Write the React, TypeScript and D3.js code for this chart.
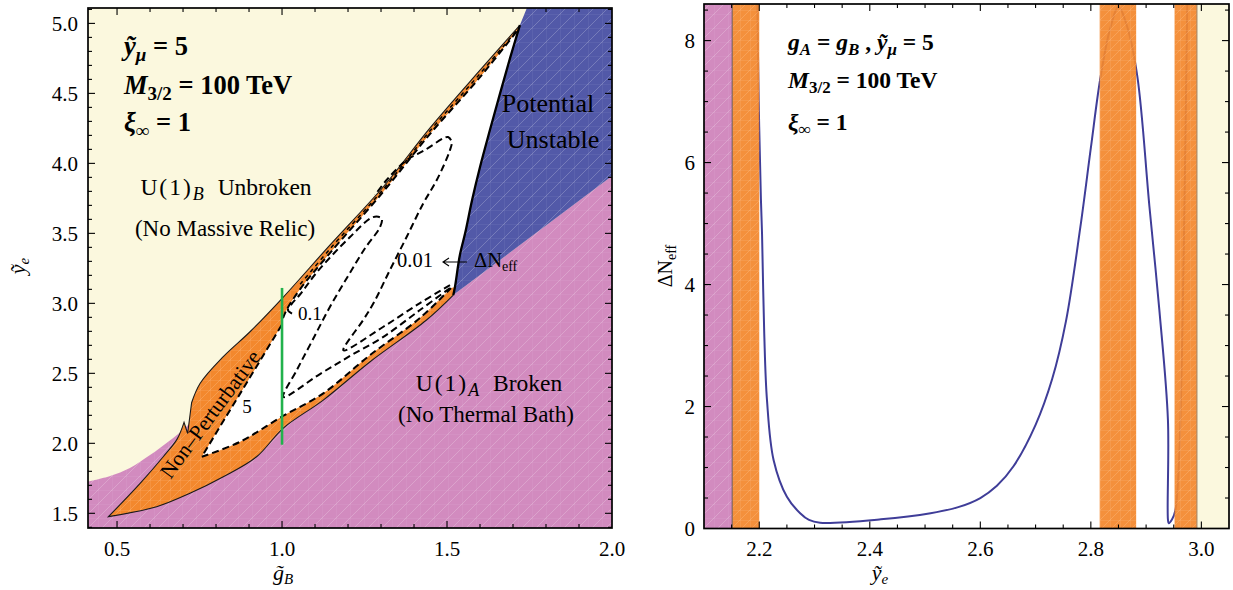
import React from "react";
import * as d3 from "d3";

type Pt = [number, number];

const FONT = "'Liberation Serif','Times New Roman',Times,serif";

// ---------------- LEFT PANEL: g̃_B (x) vs ỹ_e (y) ----------------
const leftXDomain: Pt = [0.412, 2.0];
const leftYDomain: Pt = [1.395, 5.11];
const leftXTicks = [0.5, 1.0, 1.5, 2.0];
const leftXTickLabels = ["0.5", "1.0", "1.5", "2.0"];
const leftYTicks = [1.5, 2.0, 2.5, 3.0, 3.5, 4.0, 4.5, 5.0];
const leftYTickLabels = ["1.5", "2.0", "2.5", "3.0", "3.5", "4.0", "4.5", "5.0"];

// upper boundary of the "U(1)_A Broken" region
const pinkBoundary: Pt[] = [
  [0.412, 1.726], [0.479, 1.766], [0.539, 1.824], [0.6, 1.916], [0.63, 1.966],
  [0.706, 2.109], [0.752, 2.224], [1.004, 2.202], [1.267, 2.666], [1.438, 2.931],
  [1.519, 3.059], [2.0, 3.909],
];
// potential-unstable boundary (solid black curve), bottom -> top
const unstableEdge: Pt[] = [
  [1.519, 3.059], [1.524, 3.116], [1.539, 3.345], [1.555, 3.502], [1.576, 3.738],
  [1.6, 3.974], [1.63, 4.238], [1.661, 4.502], [1.691, 4.752], [1.721, 4.988],
];
const unstableTop: Pt[] = [[1.742, 5.11], [2.0, 5.11], [2.0, 3.909]];
// non-perturbative region: lower edge (tip -> corner)
const npLower: Pt[] = [
  [0.474, 1.476], [0.62, 1.547], [0.721, 1.643], [0.822, 1.761], [0.923, 1.904],
  [1.004, 2.109], [1.125, 2.309], [1.267, 2.583], [1.438, 2.881], [1.519, 3.059],
];
// non-perturbative region: upper edge (top -> notch)
const npUpper: Pt[] = [
  [1.721, 4.988], [1.6, 4.666], [1.448, 4.252], [1.307, 3.833], [1.145, 3.416], [1.004, 3.045],
  [0.903, 2.797], [0.822, 2.619], [0.752, 2.429], [0.726, 2.29],
];
// notch and thin arm (spike -> tip)
const npNotch: Pt[] = [[0.714, 2.07], [0.703, 2.15]];
const npArm: Pt[] = [[0.703, 2.15], [0.682, 2.03], [0.64, 1.904], [0.57, 1.714], [0.474, 1.476]];
// allowed (white) region
const allowedLower: Pt[] = [
  [0.757, 1.904], [0.873, 2.011], [0.999, 2.19], [1.125, 2.357], [1.267, 2.631],
  [1.418, 2.895], [1.512, 3.109],
];
const allowedTop: Pt = [1.712, 4.945];
const allowedUpper: Pt[] = [
  [1.003, 2.895], [1.015, 2.959], [1.055, 3.102], [1.145, 3.359], [1.306, 3.795],
  [1.448, 4.209], [1.6, 4.616],
];
const allowedLeft: Pt[] = [[0.999, 2.845], [0.873, 2.355], [0.812, 2.12], [0.757, 1.904]];

// ΔN_eff contours (dashed)
const contour001: Pt[] = [
  [1.509, 3.13], [1.418, 3.002], [1.306, 2.831], [1.186, 2.664], [1.246, 2.881],
  [1.277, 3.0], [1.327, 3.238], [1.378, 3.476], [1.428, 3.714], [1.469, 3.881],
  [1.509, 4.095], [1.514, 4.154], [1.503, 4.188], [1.489, 4.179], [1.433, 4.095],
  [1.378, 4.024], [1.317, 3.881], [1.282, 3.774],
];
const contour01: Pt[] = [
  [1.509, 3.109], [1.418, 2.952], [1.306, 2.759], [1.206, 2.624], [1.115, 2.495],
  [1.004, 2.331], [1.045, 2.524], [1.091, 2.731], [1.145, 2.974], [1.2, 3.195],
  [1.252, 3.395], [1.297, 3.545], [1.302, 3.607], [1.276, 3.616], [1.206, 3.474],
  [1.106, 3.223], [1.055, 3.065], [1.03, 2.998], [1.018, 2.952], [1.033, 2.924],
];
const stripMid: Pt[] = [
  [1.055, 3.136], [1.145, 3.388], [1.306, 3.813], [1.448, 4.231], [1.6, 4.641], [1.715, 4.959],
];
const greenLineX = 1.0;
const greenLineY: Pt = [1.99, 3.11];

// ---------------- RIGHT PANEL: ỹ_e (x) vs ΔN_eff (y) ----------------
const rightXDomain: Pt = [2.1, 3.05];
const rightYDomain: Pt = [0, 8.6];
const rightXTicks = [2.2, 2.4, 2.6, 2.8, 3.0];
const rightXTickLabels = ["2.2", "2.4", "2.6", "2.8", "3.0"];
const rightYTicks = [0, 2, 4, 6, 8];
const rightYTickLabels = ["0", "2", "4", "6", "8"];

const pinkBand: Pt = [2.1, 2.151];
const orangeBands: Pt[] = [[2.151, 2.2], [2.816, 2.882], [2.9515, 2.992]];
const yellowBand: Pt = [2.992, 3.05];

const dNeffCurve: Pt[] = [
  [2.196, 9.0], [2.199, 7.0], [2.203, 5.4], [2.205, 4.84], [2.209, 3.2], [2.214, 2.1],
  [2.226, 1.12], [2.25, 0.52], [2.274, 0.25], [2.29, 0.14], [2.31, 0.095], [2.42, 0.15],
  [2.51, 0.25], [2.56, 0.35], [2.6, 0.5], [2.63, 0.7], [2.66, 1.02], [2.7, 1.7],
  [2.73, 2.45], [2.755, 3.4], [2.781, 4.94], [2.8, 6.24], [2.817, 7.37], [2.835, 8.2],
  [2.85, 8.55], [2.865, 8.25], [2.884, 7.42], [2.906, 5.28], [2.924, 3.58], [2.9395, 1.78],
  [2.9395, 0.15], [2.941, 0.085], [2.947, 0.15], [2.953, 0.3], [2.96, 1.2], [2.968, 4.5],
  [2.975, 9.0],
];

const C = {
  yellow: "#FBF8DE",
  pink: "#D28BBF",
  blue: "#5259A8",
  orange: "#F3882D",
  green: "#22B24C",
  curve: "#3F3D98",
};

const near = (v: number, step: number) => Math.abs(v / step - Math.round(v / step)) < 1e-6;

function Frame(props: {
  x0: number; x1: number; y0: number; y1: number;
  xt: number[]; yt: number[]; xs: (v: number) => number; ys: (v: number) => number;
  xMajorStep: number; yMajorStep: number;
}) {
  const { x0, x1, y0, y1, xt, yt, xs, ys, xMajorStep, yMajorStep } = props;
  const els: React.ReactNode[] = [];
  xt.forEach((v, i) => {
    const px = xs(v);
    if (px <= x0 + 0.5 || px >= x1 - 0.5) return;
    const L = near(v, xMajorStep) ? 7 : 4;
    els.push(<line key={"xb" + i} x1={px} x2={px} y1={y1} y2={y1 - L} />);
    els.push(<line key={"xt" + i} x1={px} x2={px} y1={y0} y2={y0 + L} />);
  });
  yt.forEach((v, i) => {
    const py = ys(v);
    if (py <= y0 + 0.5 || py >= y1 - 0.5) return;
    const L = near(v, yMajorStep) ? 7 : 4;
    els.push(<line key={"yl" + i} x1={x0} x2={x0 + L} y1={py} y2={py} />);
    els.push(<line key={"yr" + i} x1={x1} x2={x1 - L} y1={py} y2={py} />);
  });
  return (
    <g stroke="#000" strokeWidth={1.1}>
      {els}
      <rect x={x0} y={y0} width={x1 - x0} height={y1 - y0} fill="none" strokeWidth={1.7} />
    </g>
  );
}

export default function App() {
  const xL = d3.scaleLinear().domain(leftXDomain).range([88, 612]);
  const yL = d3.scaleLinear().domain(leftYDomain).range([528, 8]);
  const xR = d3.scaleLinear().domain(rightXDomain).range([704, 1229]);
  const yR = d3.scaleLinear().domain(rightYDomain).range([528.5, 4]);

  const linL = d3.line<Pt>().x((d) => xL(d[0])).y((d) => yL(d[1]));
  const smoothL = d3.line<Pt>().x((d) => xL(d[0])).y((d) => yL(d[1])).curve(d3.curveCatmullRom.alpha(0.5));
  const lineR = d3.line<Pt>().x((d) => xR(d[0])).y((d) => yR(d[1])).curve(d3.curveCatmullRom.alpha(0.5));

  // join segments [points, smooth?] into one closed path
  const joined = (segs: [Pt[], boolean][]) =>
    segs
      .map(([pts, smooth], i) => {
        const d = (smooth ? smoothL(pts) : linL(pts)) || "";
        return i === 0 ? d : d.replace(/^M/, "L");
      })
      .join("") + "Z";

  const pinkPoly = joined([
    [pinkBoundary.slice(0, 7), true],
    [pinkBoundary.slice(6), false],
    [[[leftXDomain[1], leftYDomain[0]], [leftXDomain[0], leftYDomain[0]]], false],
  ]);
  const bluePoly = joined([[unstableTop, false], [unstableEdge, true]]);
  const orangePoly = joined([
    [npLower, true],
    [unstableEdge, true],
    [npUpper, true],
    [npNotch, false],
    [npArm, true],
  ]);
  const whitePoly = joined([
    [allowedLower, true],
    [unstableEdge.slice(1, -1), true],
    [[allowedTop, ...allowedUpper.slice().reverse()], true],
    [allowedLeft, false],
  ]);
  const stripInner = [...allowedUpper, allowedTop];

  const leftXt = d3.range(0.5, 2.0001, 0.1).map((v) => +v.toFixed(2));
  const leftYt = d3.range(1.4, 5.1001, 0.1).map((v) => +v.toFixed(2));
  const rightXt = d3.range(2.1, 3.0501, 0.05).map((v) => +v.toFixed(3));
  const rightYt = d3.range(0, 8.6, 0.5).map((v) => +v.toFixed(2));

  const dash = { fill: "none", stroke: "#000", strokeWidth: 2, strokeDasharray: "7 4" };

  return (
    <svg width={1233} height={590} style={{ position: "absolute", left: 0, top: 0, background: "#fff" }} fontFamily={FONT}>
      <defs>
        <pattern id="mesh" width="14" height="14" patternUnits="userSpaceOnUse">
          <path d="M0,14 L14,0 M-2,2 L2,-2 M12,16 L16,12" stroke="#fff" strokeWidth="0.7" strokeOpacity="0.3" />
          <path d="M0,0 V14 M0,0 H14" stroke="#fff" strokeWidth="0.6" strokeOpacity="0.18" />
        </pattern>
        <pattern id="meshO" width="10" height="10" patternUnits="userSpaceOnUse">
          <path d="M0,10 L10,0 M0,0 V10 M0,0 H10" stroke="#FFD2A8" strokeWidth="0.6" strokeOpacity="0.45" />
        </pattern>
        <clipPath id="clipL"><rect x={88} y={8} width={524} height={520} /></clipPath>
        <clipPath id="clipR"><rect x={704} y={4} width={525} height={524.5} /></clipPath>
      </defs>

      {/* ---------------- LEFT PANEL ---------------- */}
      <g clipPath="url(#clipL)">
        <rect x={88} y={8} width={524} height={520} fill={C.yellow} />
        <path d={pinkPoly} fill={C.pink} />
        <path d={pinkPoly} fill="url(#mesh)" />
        <path d={bluePoly} fill={C.blue} />
        <path d={bluePoly} fill="url(#mesh)" />
        <path d={orangePoly} fill={C.orange} />
        <path d={orangePoly} fill="url(#meshO)" />
        <path d={orangePoly} fill="none" stroke="#1a1a1a" strokeWidth={1.1} />
        <path d={whitePoly} fill="#fff" />
        <path d={linL(allowedLeft) || ""} {...dash} />
        <path d={smoothL(allowedLower) || ""} {...dash} />
        <path d={smoothL(stripInner) || ""} {...dash} />
        <path d={smoothL(stripMid) || ""} {...dash} strokeWidth={1.5} strokeDasharray="4 4" />
        <path d={smoothL(contour001) || ""} {...dash} />
        <path d={smoothL(contour01) || ""} {...dash} />
        <path d={smoothL(unstableEdge) || ""} fill="none" stroke="#000" strokeWidth={2.3} />
        <line x1={xL(greenLineX)} x2={xL(greenLineX)} y1={yL(greenLineY[0])} y2={yL(greenLineY[1])} stroke={C.green} strokeWidth={2.6} />
      </g>

      {/* left annotations */}
      <g fontWeight="bold" fontSize={26.5} fill="#000" style={{ whiteSpace: "pre" }}>
        <text x={124} y={55}>
          <tspan fontStyle="italic">ỹ</tspan>
          <tspan fontStyle="italic" fontSize={19} dy={6}>μ</tspan>
          <tspan dy={-6}> = 5</tspan>
        </text>
        <text x={124} y={94}>
          <tspan fontStyle="italic">M</tspan>
          <tspan fontSize={19} dy={6}>3/2</tspan>
          <tspan dy={-6}> = 100 TeV</tspan>
        </text>
        <text x={124} y={131}>
          <tspan fontStyle="italic">ξ</tspan>
          <tspan fontSize={19} dy={6}>∞</tspan>
          <tspan dy={-6}> = 1</tspan>
        </text>
      </g>
      <g fontSize={23.5} fill="#000" style={{ whiteSpace: "pre" }}>
        <text x={226} y={195} textAnchor="middle">
          <tspan letterSpacing={2}>U(1)</tspan>
          <tspan fontStyle="italic" fontSize={18} dy={5}>B</tspan>
          <tspan dy={-5} dx={8}> Unbroken</tspan>
        </text>
        <text x={225} y={236} textAnchor="middle" fontSize={23}>(No Massive Relic)</text>
        <text x={489} y={391} textAnchor="middle">
          <tspan letterSpacing={2}>U(1)</tspan>
          <tspan fontStyle="italic" fontSize={18} dy={5}>A</tspan>
          <tspan dy={-5} dx={8}> Broken</tspan>
        </text>
        <text x={486} y={422} textAnchor="middle" fontSize={23}>(No Thermal Bath)</text>
        <text x={548} y={112} fontSize={26} textAnchor="middle">Potential</text>
        <text x={553} y={148} fontSize={26} textAnchor="middle">Unstable</text>
      </g>
      <text x={397} y={267} fontSize={20.5}>0.01</text>
      <path d="M467,262 H443 M449,258 L443,262 L449,266" fill="none" stroke="#000" strokeWidth={1.1} />
      <text x={474} y={267} fontSize={20.5}>
        ΔN<tspan fontSize={14} dy={4}>eff</tspan>
      </text>
      <text x={298} y={320} fontSize={19}>0.1</text>
      <text x={247} y={413} fontSize={19} textAnchor="middle">5</text>
      <text transform="translate(210,414) rotate(-53.5)" fontSize={21.5} textAnchor="middle" dy="0.35em">
        Non–Perturbative
      </text>

      <Frame x0={88} x1={612} y0={8} y1={528} xt={leftXt} yt={leftYt} xs={xL} ys={yL} xMajorStep={0.5} yMajorStep={0.5} />
      <g fontSize={21} fill="#000">
        {leftXTicks.map((v, i) => (
          <text key={"lx" + i} x={xL(v)} y={556} textAnchor="middle">{leftXTickLabels[i]}</text>
        ))}
        {leftYTicks.map((v, i) => (
          <text key={"ly" + i} x={78} y={yL(v)} dy="0.35em" textAnchor="end">{leftYTickLabels[i]}</text>
        ))}
      </g>
      <text x={283} y={580} fontSize={22} fontStyle="italic" textAnchor="middle">
        g̃<tspan fontSize={15} dy={4}>B</tspan>
      </text>
      <text transform="translate(25,266) rotate(-90)" fontSize={22} fontStyle="italic" textAnchor="middle">
        ỹ<tspan fontSize={15} dy={4}>e</tspan>
      </text>

      {/* ---------------- RIGHT PANEL ---------------- */}
      <g clipPath="url(#clipR)">
        <rect x={704} y={4} width={525} height={524.5} fill="#fff" />
        <path d={lineR(dNeffCurve) || ""} fill="none" stroke={C.curve} strokeWidth={2} />
        <rect x={xR(pinkBand[0])} y={4} width={xR(pinkBand[1]) - xR(pinkBand[0])} height={524.5} fill={C.pink} />
        <rect x={xR(pinkBand[0])} y={4} width={xR(pinkBand[1]) - xR(pinkBand[0])} height={524.5} fill="url(#mesh)" />
        {orangeBands.map((b, i) => (
          <g key={"ob" + i}>
            <rect x={xR(b[0])} y={4} width={xR(b[1]) - xR(b[0])} height={524.5} fill={C.orange} fillOpacity={0.93} />
            <rect x={xR(b[0])} y={4} width={xR(b[1]) - xR(b[0])} height={524.5} fill="url(#meshO)" />
          </g>
        ))}
        <rect x={xR(yellowBand[0])} y={4} width={xR(yellowBand[1]) - xR(yellowBand[0])} height={524.5} fill={C.yellow} />
        <line x1={xR(pinkBand[1])} x2={xR(pinkBand[1])} y1={4} y2={528.5} stroke="#6b5a5a" strokeWidth={1} />
        <line x1={xR(yellowBand[0])} x2={xR(yellowBand[0])} y1={4} y2={528.5} stroke="#9b7f62" strokeWidth={1} />
      </g>
      <g fontWeight="bold" fontSize={23.5} fill="#000" style={{ whiteSpace: "pre" }}>
        <text x={788} y={50}>
          <tspan fontStyle="italic">g</tspan>
          <tspan fontStyle="italic" fontSize={17} dy={5}>A</tspan>
          <tspan dy={-5}> = </tspan>
          <tspan fontStyle="italic">g</tspan>
          <tspan fontStyle="italic" fontSize={17} dy={5}>B</tspan>
          <tspan dy={-5}> ,  </tspan>
          <tspan fontStyle="italic">ỹ</tspan>
          <tspan fontStyle="italic" fontSize={17} dy={5}>μ</tspan>
          <tspan dy={-5}> = 5</tspan>
        </text>
        <text x={788} y={88}>
          <tspan fontStyle="italic">M</tspan>
          <tspan fontSize={17} dy={5}>3/2</tspan>
          <tspan dy={-5}> = 100 TeV</tspan>
        </text>
        <text x={788} y={130}>
          <tspan fontStyle="italic">ξ</tspan>
          <tspan fontSize={17} dy={5}>∞</tspan>
          <tspan dy={-5}> = 1</tspan>
        </text>
      </g>

      <Frame x0={704} x1={1229} y0={4} y1={528.5} xt={rightXt} yt={rightYt} xs={xR} ys={yR} xMajorStep={0.2} yMajorStep={2} />
      <g fontSize={21} fill="#000">
        {rightXTicks.map((v, i) => (
          <text key={"rx" + i} x={xR(v)} y={556} textAnchor="middle">{rightXTickLabels[i]}</text>
        ))}
        {rightYTicks.map((v, i) => (
          <text key={"ry" + i} x={695} y={yR(v)} dy="0.35em" textAnchor="end">{rightYTickLabels[i]}</text>
        ))}
      </g>
      <text x={880} y={580} fontSize={22} fontStyle="italic" textAnchor="middle">
        ỹ<tspan fontSize={15} dy={4}>e</tspan>
      </text>
      <text transform="translate(672,266) rotate(-90)" fontSize={20} textAnchor="middle">
        ΔN<tspan fontSize={14} dy={4}>eff</tspan>
      </text>
    </svg>
  );
}
